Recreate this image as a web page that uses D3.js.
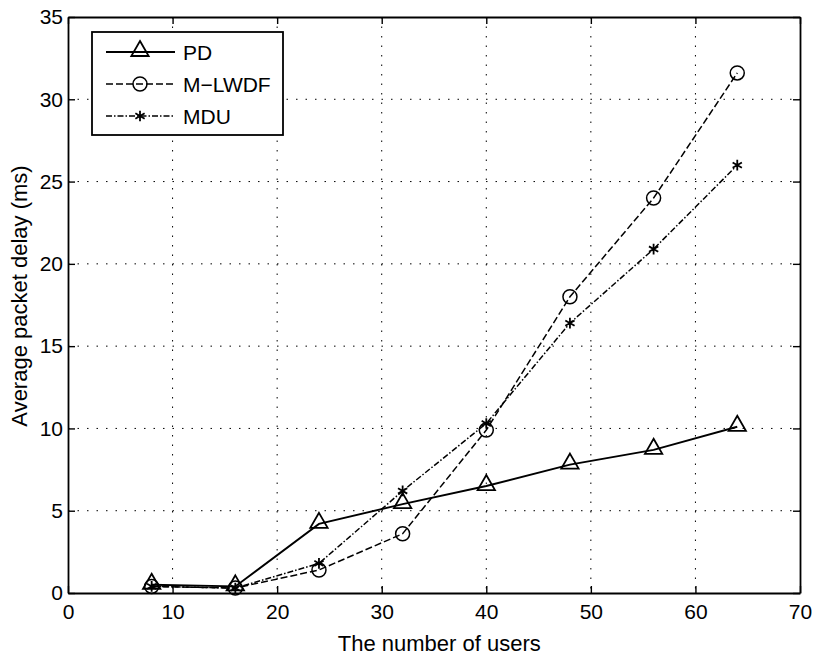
<!DOCTYPE html>
<html>
<head>
<meta charset="utf-8">
<script src="https://cdn.jsdelivr.net/npm/d3@7"></script>
<style>
  body { margin: 0; background: #fff; }
  text { font-family: "Liberation Sans", Arial, sans-serif; fill: #000; }
</style>
</head>
<body>
<div id="chart"></div>
<script>
// data
var users = [8, 16, 24, 32, 40, 48, 56, 64];
var pdDelay = [0.5, 0.4, 4.2, 5.4, 6.5, 7.8, 8.7, 10.1];
var mlwdfDelay = [0.4, 0.3, 1.4, 3.6, 9.9, 18.0, 24.0, 31.6];
var mduDelay = [0.4, 0.3, 1.8, 6.2, 10.3, 16.4, 20.9, 26.0];
var xTicks = [0, 10, 20, 30, 40, 50, 60, 70];
var yTicks = [0, 5, 10, 15, 20, 25, 30, 35];
var seriesNames = ["PD", "M\u2212LWDF", "MDU"];

var margin = {top: 17, right: 15, bottom: 68, left: 68};
var width = 815 - margin.left - margin.right;
var height = 661 - margin.top - margin.bottom;

var x = d3.scaleLinear().domain([0, 70]).range([0, width]);
var y = d3.scaleLinear().domain([0, 35]).range([height, 0]);

var svg = d3.select("#chart").append("svg")
    .attr("width", 815)
    .attr("height", 661)
  .append("g")
    .attr("transform", "translate(" + margin.left + "," + margin.top + ")");

// dotted grid
svg.append("g").selectAll("line")
    .data(xTicks.slice(1, -1))
  .enter().append("line")
    .attr("x1", function(d) { return x(d); })
    .attr("x2", function(d) { return x(d); })
    .attr("y1", 0).attr("y2", height)
    .attr("stroke", "#000").attr("stroke-width", 1)
    .attr("stroke-dasharray", "1.5,8");
svg.append("g").selectAll("line")
    .data(yTicks.slice(1, -1))
  .enter().append("line")
    .attr("y1", function(d) { return y(d); })
    .attr("y2", function(d) { return y(d); })
    .attr("x1", 0).attr("x2", width)
    .attr("stroke", "#000").attr("stroke-width", 1)
    .attr("stroke-dasharray", "1.5,8");

// axes
svg.append("g")
    .attr("transform", "translate(0," + height + ")")
    .call(d3.axisBottom(x).tickValues(xTicks).tickSizeInner(-7).tickSizeOuter(0).tickPadding(11));
svg.append("g")
    .call(d3.axisLeft(y).tickValues(yTicks).tickSizeInner(-7).tickSizeOuter(0).tickPadding(5));
svg.append("g")
    .attr("transform", "translate(" + width + ",0)")
    .call(d3.axisRight(y).tickValues(yTicks).tickSizeInner(-7).tickSizeOuter(0).tickFormat(""));
svg.append("g")
    .call(d3.axisTop(x).tickValues(xTicks).tickSizeInner(-7).tickSizeOuter(0).tickFormat(""));
svg.selectAll(".domain").attr("stroke", "#000").attr("stroke-width", 1.8);
svg.selectAll(".tick line").attr("stroke", "#000").attr("stroke-width", 1.4);
svg.selectAll(".tick text").style("font-size", "21px").style("font-family", "Liberation Sans, Arial, sans-serif");

// axis titles
svg.append("text")
    .attr("x", x(35.5)).attr("y", height + 58)
    .attr("text-anchor", "middle")
    .style("font-size", "22px")
    .text("The number of users");
svg.append("text")
    .attr("transform", "translate(-41," + (296 - margin.top) + ") rotate(-90)")
    .attr("text-anchor", "middle")
    .style("font-size", "22px")
    .text("Average packet delay (ms)");

var styles = [
  {dash: null, marker: "triangle"},
  {dash: "7,3", marker: "circle"},
  {dash: "6,2,1.5,2", marker: "star"}
];
var allSeries = [pdDelay, mlwdfDelay, mduDelay];

var line = d3.line()
    .x(function(d) { return x(d[0]); })
    .y(function(d) { return y(d[1]); });

function drawMarker(g, type, cx, cy) {
  if (type === "triangle") {
    g.append("path")
        .attr("d", d3.symbol().type(d3.symbolTriangle).size(130)())
        .attr("transform", "translate(" + cx + "," + (cy - 1) + ")")
        .attr("fill", "none").attr("stroke", "#000").attr("stroke-width", 1.8);
  } else if (type === "circle") {
    g.append("circle")
        .attr("cx", cx).attr("cy", cy).attr("r", 7)
        .attr("fill", "none").attr("stroke", "#000").attr("stroke-width", 1.5);
  } else {
    g.append("path")
        .attr("d", d3.symbol().type(d3.symbolAsterisk).size(80)())
        .attr("transform", "translate(" + cx + "," + cy + ")")
        .attr("fill", "none").attr("stroke", "#000").attr("stroke-width", 1.8);
  }
}

allSeries.forEach(function(vals, i) {
  var pts = users.map(function(u, j) { return [u, vals[j]]; });
  svg.append("path")
      .datum(pts)
      .attr("fill", "none")
      .attr("stroke", "#000")
      .attr("stroke-width", i === 0 ? 1.9 : 1.5)
      .attr("stroke-dasharray", styles[i].dash)
      .attr("d", line);
  var g = svg.append("g");
  pts.forEach(function(p) { drawMarker(g, styles[i].marker, x(p[0]), y(p[1])); });
});

// legend
var legend = svg.append("g").attr("transform", "translate(24,15)");
legend.append("rect")
    .attr("width", 191).attr("height", 103)
    .attr("fill", "#fff").attr("stroke", "#000").attr("stroke-width", 1.8);
seriesNames.forEach(function(name, i) {
  var ly = 20 + i * 32;
  legend.append("line")
      .attr("x1", 14).attr("x2", 83).attr("y1", ly).attr("y2", ly)
      .attr("stroke", "#000").attr("stroke-width", i === 0 ? 1.9 : 1.5)
      .attr("stroke-dasharray", styles[i].dash);
  drawMarker(legend, styles[i].marker, 48, ly);
  legend.append("text")
      .attr("x", 91).attr("y", ly + 8)
      .style("font-size", "21px")
      .text(name);
});
</script>
</body>
</html>
